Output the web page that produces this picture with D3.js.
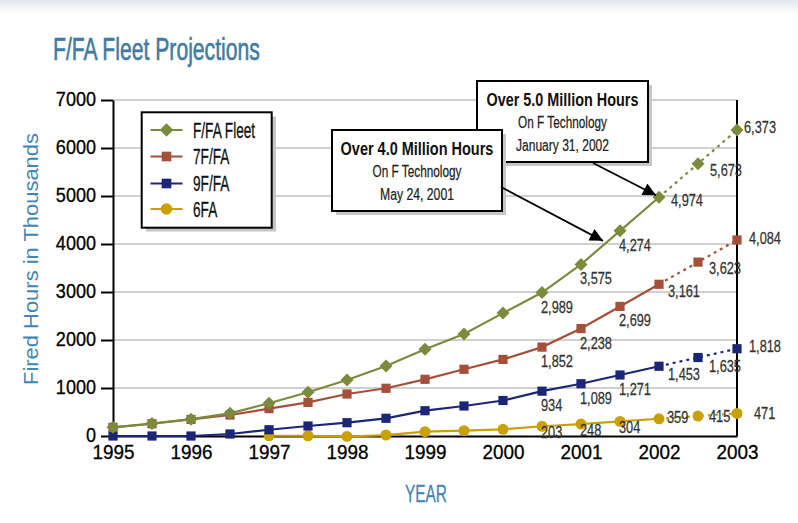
<!DOCTYPE html>
<html><head><meta charset="utf-8">
<script src="https://cdn.jsdelivr.net/npm/d3@7"></script>
<style>
body{margin:0;background:#fff;}
svg{display:block;font-family:"Liberation Sans",Arial,"DejaVu Sans",sans-serif;}
</style>
</head><body>
<svg id="chart" width="798" height="523"></svg>
<script>
// ---------------- data ----------------
const years = [1995,1995.5,1996,1996.5,1997,1997.5,1998,1998.5,1999,1999.5,2000,2000.5,2001,2001.5,2002,2002.5,2003];
const fleetFFA = [180,260,350,473,681,910,1167,1458,1806,2125,2560,2989,3575,4274,4974,5673,6373];
const fleet7FA = [180,255,345,437,570,700,875,994,1181,1390,1595,1852,2238,2699,3161,3623,4084];
const fleet9FA = [0,0,0,42,130,208,277,369,527,625,740,934,1089,1271,1453,1635,1818];
const fleet6FA = [null,null,null,null,5,5,-10,20,90,110,140,203,248,304,359,415,471];
const seriesNames = ["F/FA Fleet","7F/FA","9F/FA","6FA"];
const yTicks = [0,1000,2000,3000,4000,5000,6000,7000];
const xTicks = [1995,1996,1997,1998,1999,2000,2001,2002,2003];
const labelFromYear = 2000.5;
const projectionFromYear = 2002;
const notes = [
  {lines:["Over 5.0 Million Hours","On F Technology","January 31, 2002"], year:2002, value:4974},
  {lines:["Over 4.0 Million Hours","On F Technology","May 24, 2001"], year:2001.5, value:4274}
];

// ---------------- setup ----------------
const svg = d3.select("#chart");
const x = d3.scaleLinear().domain([1995,2003]).range([113,737]);
const y = d3.scaleLinear().domain([0,7000]).range([436,100]);

// horizontal condensing that keeps the anchor point fixed
function condense(sel, f){
  sel.each(function(){
    const ax = +(this.getAttribute("x")||0);
    this.setAttribute("transform", `translate(${ax*(1-f)},0) scale(${f},1)`);
  });
}
function fitW(sel, w){
  sel.each(function(){
    const n = this.getComputedTextLength();
    condense(d3.select(this), w/n);
  });
}

const defs = svg.append("defs");
const grad = defs.append("linearGradient").attr("id","topg").attr("x1",0).attr("x2",0).attr("y1",0).attr("y2",1);
grad.append("stop").attr("offset","0%").attr("stop-color","#e2e6ed");
grad.append("stop").attr("offset","100%").attr("stop-color","#ffffff");
defs.append("marker").attr("id","ah").attr("viewBox","0 0 10 10")
  .attr("refX",10).attr("refY",5).attr("markerWidth",15).attr("markerHeight",13)
  .attr("markerUnits","userSpaceOnUse").attr("orient","auto")
  .append("path").attr("d","M0,0L10,5L0,10Z").attr("fill","#000");

svg.append("rect").attr("x",0).attr("y",0).attr("width",798).attr("height",14).attr("fill","url(#topg)");

// title
const title = svg.append("text").attr("x",53).attr("y",60).attr("font-size",32)
  .attr("fill","#3f7ba5").attr("stroke","#3f7ba5").attr("stroke-width",0.6).text("F/FA Fleet Projections");
fitW(title, 207);

// gridlines
svg.append("g").selectAll("line").data(yTicks.filter(d=>d>0)).join("line")
  .attr("x1",x(1995)).attr("x2",x(2003)).attr("y1",d=>y(d)).attr("y2",d=>y(d))
  .attr("stroke","#d0d0d0").attr("stroke-width",2);

// right border
svg.append("line").attr("x1",x(2003)).attr("x2",x(2003)).attr("y1",y(7000)).attr("y2",y(0))
  .attr("stroke","#000").attr("stroke-width",2);

// axes
const yAxis = svg.append("g").attr("transform",`translate(${x(1995)},0)`)
  .call(d3.axisLeft(y).tickValues(yTicks).tickSize(12).tickSizeOuter(0).tickPadding(5).tickFormat(d3.format("d")));
yAxis.select(".domain").attr("stroke","#000").attr("stroke-width",2);
yAxis.selectAll(".tick line").attr("stroke","#000").attr("stroke-width",2);
yAxis.selectAll(".tick text").attr("font-size",21).attr("fill","#000").attr("stroke","#000").attr("stroke-width",0.3)
  .attr("dy","0.28em").attr("font-family","Liberation Sans, Arial, sans-serif");
condense(yAxis.selectAll(".tick text"), 0.86);

const xAxis = svg.append("g").attr("transform",`translate(0,${y(0)})`)
  .call(d3.axisBottom(x).tickValues(xTicks).tickSize(0).tickSizeOuter(0).tickPadding(8).tickFormat(d3.format("d")));
xAxis.select(".domain").attr("stroke","#000").attr("stroke-width",2);
xAxis.selectAll(".tick text").attr("font-size",21).attr("fill","#000").attr("stroke","#000").attr("stroke-width",0.3)
  .attr("font-family","Liberation Sans, Arial, sans-serif");
condense(xAxis.selectAll(".tick text"), 0.9);

// axis titles
const yl = svg.append("text").attr("transform","translate(38,259) rotate(-90)")
  .attr("text-anchor","middle").attr("font-size",21).attr("fill","#3f86b5").text("Fired Hours in Thousands");
{
  const n = yl.node().getComputedTextLength();
  yl.attr("transform",`translate(38,259) rotate(-90) scale(${252/n},1)`);
}
const xl = svg.append("text").attr("x",426).attr("y",502).attr("text-anchor","middle")
  .attr("font-size",24).attr("fill","#3f86b5").attr("stroke","#3f86b5").attr("stroke-width",0.3).text("YEAR");
fitW(xl, 42);

// series
const series = [
  {name:seriesNames[0], values:fleetFFA, color:"#7b8b3e", sym:"diamond"},
  {name:seriesNames[1], values:fleet7FA, color:"#a5503a", sym:"square"},
  {name:seriesNames[2], values:fleet9FA, color:"#1c2677", sym:"square"},
  {name:seriesNames[3], values:fleet6FA, color:"#c9a106", sym:"circle"}
];
function drawSym(g, s, px, py, scale){
  scale = scale||1;
  if(s.sym==="diamond"){
    const r = 6.5*scale;
    g.append("path").attr("d",`M${px},${py-r}L${px+r},${py}L${px},${py+r}L${px-r},${py}Z`).attr("fill",s.color);
  } else if(s.sym==="square"){
    const h = 4.6*scale;
    g.append("rect").attr("x",px-h).attr("y",py-h).attr("width",2*h).attr("height",2*h).attr("fill",s.color);
  } else {
    g.append("circle").attr("cx",px).attr("cy",py).attr("r",5.5*scale).attr("fill",s.color);
  }
}
const line = d3.line().defined(d=>d.v!==null).x(d=>x(d.t)).y(d=>y(d.v));
const plot = svg.append("g");
series.slice().reverse().forEach(s=>{
  const pts = years.map((t,i)=>({t, v:s.values[i]}));
  plot.append("path").datum(pts.filter(d=>d.t<=projectionFromYear)).attr("d",line)
    .attr("fill","none").attr("stroke",s.color).attr("stroke-width",2.2);
  plot.append("path").datum(pts.filter(d=>d.t>=projectionFromYear)).attr("d",line)
    .attr("fill","none").attr("stroke",s.color).attr("stroke-width",2.2).attr("stroke-dasharray","3,4");
  pts.filter(d=>d.v!==null).forEach(d=>drawSym(plot, s, x(d.t), y(d.v)));
});

// value labels
const fmt = d3.format(",");
function labelOffset(si, t){
  if(t < projectionFromYear) return si===3 ? [-1,12] : [-1,20];
  if(t === projectionFromYear) return [[12,9],[9,13],[9,14],[8,4]][si];
  if(t < 2003) return [[12,12],[11,12],[11,14],[11,6]][si];
  return [[7,3],[12,4],[12,3],[17,6]][si];
}
const lab = svg.append("g").attr("font-size",16).attr("fill","#333").attr("stroke","#333").attr("stroke-width",0.25);
series.forEach((s,si)=>{
  years.forEach((t,i)=>{
    if(t < labelFromYear || s.values[i]===null) return;
    const o = labelOffset(si,t);
    lab.append("text").attr("x",x(t)+o[0]).attr("y",y(s.values[i])+o[1]).text(fmt(s.values[i]));
  });
});
condense(lab.selectAll("text"), 0.8);

// legend
const lg = svg.append("g");
lg.append("rect").attr("x",146).attr("y",116.5).attr("width",130).attr("height",115).attr("fill","#c6c6c6");
lg.append("rect").attr("x",141.7).attr("y",112.3).attr("width",130).attr("height",115.4)
  .attr("fill","#fff").attr("stroke","#000").attr("stroke-width",2);
const rowY = [130,156.5,183.5,209];
series.forEach((s,i)=>{
  lg.append("line").attr("x1",150.5).attr("x2",182.5).attr("y1",rowY[i]).attr("y2",rowY[i])
    .attr("stroke",s.color).attr("stroke-width",2.2);
  drawSym(lg, s, 166.5, rowY[i], 1.05);
  const t = lg.append("text").attr("x",193).attr("y",rowY[i]+8).attr("font-size",22)
    .attr("fill","#111").attr("stroke","#111").attr("stroke-width",0.3).text(s.name);
  condense(t, 0.62);
});

// annotation boxes
const boxes = [
  {x:477, y:81, w:171, h:81, widths:[152,89,93]},
  {x:332, y:130, w:170, h:81, widths:[153,89,74]}
];
notes.forEach((n,k)=>{
  const b = boxes[k];
  const g = svg.append("g");
  g.append("rect").attr("x",b.x+4).attr("y",b.y+4).attr("width",b.w).attr("height",b.h).attr("fill","#c6c6c6");
  g.append("rect").attr("x",b.x).attr("y",b.y).attr("width",b.w).attr("height",b.h)
    .attr("fill","#fff").attr("stroke","#000").attr("stroke-width",2);
  const cx = b.x + b.w/2;
  const t1 = g.append("text").attr("x",cx).attr("y",b.y+25).attr("text-anchor","middle")
    .attr("font-size",19).attr("font-weight","bold").attr("fill","#111").text(n.lines[0]);
  fitW(t1, b.widths[0]);
  [1,2].forEach(j=>{
    const t = g.append("text").attr("x",cx).attr("y",b.y+25+(j===1?22:45)).attr("text-anchor","middle")
      .attr("font-size",16.5).attr("fill","#222").attr("stroke","#222").attr("stroke-width",0.25).text(n.lines[j]);
    fitW(t, b.widths[j]);
  });
});
// arrows
const arrowStarts = [[593,163],[501,187]];
notes.forEach((n,k)=>{
  const tx = x(n.year), ty = y(n.value);
  const sx = arrowStarts[k][0], sy = arrowStarts[k][1];
  const ex = k===0 ? tx-3 : tx-17, ey = k===0 ? ty-2 : ty+10;
  svg.append("line").attr("x1",sx).attr("y1",sy).attr("x2",ex).attr("y2",ey)
    .attr("stroke","#000").attr("stroke-width",1.8).attr("marker-end","url(#ah)");
});
</script>
</body></html>
